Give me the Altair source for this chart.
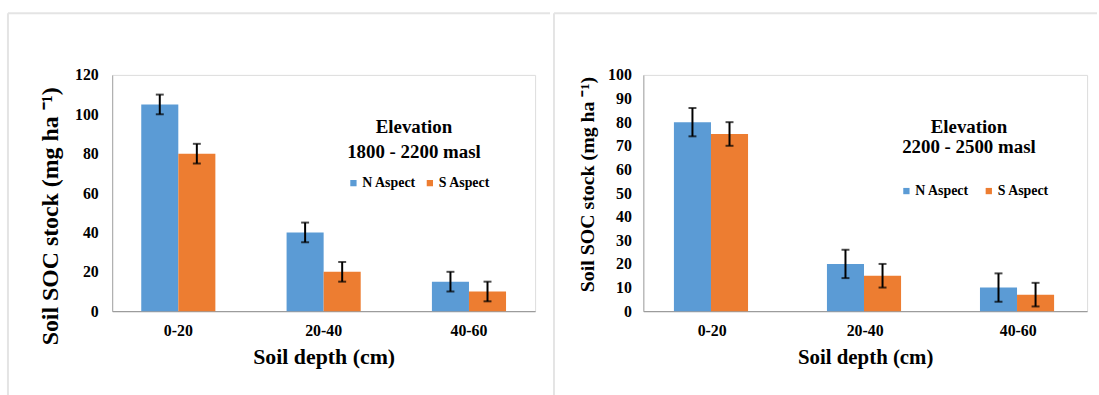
import altair as alt
import pandas as pd

depths = ["0-20", "20-40", "40-60"]
aspects = ["N Aspect", "S Aspect"]

left_n = [105, 40, 15]
left_s = [80, 20, 10]
left_n_err = [5, 5, 5]
left_s_err = [5, 5, 5]

right_n = [80, 20, 10]
right_s = [75, 15, 7]
right_n_err = [6, 6, 6]
right_s_err = [5, 5, 5]

left_ticks = [0, 20, 40, 60, 80, 100, 120]
right_ticks = [0, 10, 20, 30, 40, 50, 60, 70, 80, 90, 100]

FONT = "'Liberation Serif', 'Times New Roman', Times, serif"
COLORS = ["#5B9BD5", "#ED7D31"]


def make_df(n, s, ne, se):
    rows = []
    for d, v, e in zip(depths, n, ne):
        rows.append({"depth": d, "aspect": aspects[0], "value": v, "lo": v - e, "hi": v + e})
    for d, v, e in zip(depths, s, se):
        rows.append({"depth": d, "aspect": aspects[1], "value": v, "lo": v - e, "hi": v + e})
    return pd.DataFrame(rows)


def panel(df, ticks, width, pad_inner, ytitle_size, label_size, xtitle_size,
          elev_text, elev_x, elev_y1, elev_y2, leg_x, leg_y, col_pad,
          frame_left, frame_right, ytitle_pad, ytitle_y, ylabel_pad):
    base = alt.Chart(df)
    xaxis = alt.Axis(title="Soil depth (cm)", labelAngle=0, ticks=False,
                     labelFont=FONT, labelFontWeight="bold", labelFontSize=16,
                     labelColor="#000", labelPadding=11,
                     titleFont=FONT, titleFontWeight="bold", titleFontSize=xtitle_size,
                     titleColor="#000", titlePadding=9,
                     domainColor="#8c8c8c", domainWidth=1)
    yaxis = alt.Axis(title="Soil SOC stock (mg ha \u207b\u00b9)", values=ticks,
                     grid=False, ticks=False, labelOverlap=False,
                     labelFont=FONT, labelFontWeight="bold", labelFontSize=label_size,
                     labelColor="#000", labelPadding=ylabel_pad,
                     titleFont=FONT, titleFontWeight="bold", titleFontSize=ytitle_size,
                     titleColor="#000", titlePadding=ytitle_pad, titleY=ytitle_y,
                     domainColor="#a6a6a6", domainWidth=1)
    xscale = alt.Scale(paddingInner=pad_inner)
    yscale = alt.Scale(domain=[ticks[0], ticks[-1]], nice=False)
    xenc = alt.X("depth:N", sort=depths, scale=xscale, axis=xaxis)
    xoff = alt.XOffset("aspect:N", sort=aspects)
    bars = base.mark_bar().encode(
        x=xenc,
        y=alt.Y("value:Q", scale=yscale, axis=yaxis),
        xOffset=xoff,
        color=alt.Color("aspect:N", sort=aspects,
                        scale=alt.Scale(domain=aspects, range=COLORS),
                        legend=alt.Legend(title=None, orient="none", direction="horizontal",
                                          legendX=leg_x, legendY=leg_y,
                                          symbolType="square", symbolSize=40,
                                          symbolStrokeWidth=0, symbolOpacity=1,
                                          labelFont=FONT, labelFontWeight="bold",
                                          labelFontSize=14, labelColor="#000",
                                          labelOffset=2, columnPadding=col_pad)),
    )
    err = base.mark_rule(color="#000", strokeWidth=2).encode(
        x=xenc, xOffset=xoff,
        y=alt.Y("lo:Q", scale=yscale, axis=yaxis), y2="hi:Q",
    )
    cap_lo = base.mark_tick(color="#000", thickness=2, size=8).encode(
        x=xenc, xOffset=xoff,
        y=alt.Y("lo:Q", scale=yscale, axis=yaxis),
    )
    cap_hi = base.mark_tick(color="#000", thickness=2, size=8).encode(
        x=xenc, xOffset=xoff,
        y=alt.Y("hi:Q", scale=yscale, axis=yaxis),
    )
    t1 = alt.Chart(pd.DataFrame({"t": [elev_text[0]]})).mark_text(
        font=FONT, fontWeight="bold", fontSize=19, color="#000", align="center", baseline="middle"
    ).encode(text="t:N", x=alt.value(elev_x), y=alt.value(elev_y1))
    t2 = alt.Chart(pd.DataFrame({"t": [elev_text[1]]})).mark_text(
        font=FONT, fontWeight="bold", fontSize=19, color="#000", align="center", baseline="middle"
    ).encode(text="t:N", x=alt.value(elev_x), y=alt.value(elev_y2))
    frame_top = alt.Chart(pd.DataFrame({"a": [0]})).mark_rule(color="#e4e4e4", strokeWidth=2, clip=False).encode(
        x=alt.value(frame_left), x2=alt.value(frame_right), y=alt.value(-62))
    frame_side = alt.Chart(pd.DataFrame({"a": [0]})).mark_rule(color="#e4e4e4", strokeWidth=2, clip=False).encode(
        x=alt.value(frame_left), y=alt.value(-62), y2=alt.value(323))
    return alt.layer(bars, err, cap_lo, cap_hi, t1, t2, frame_top, frame_side).properties(
        width=width, height=238)


left_df = make_df(left_n, left_s, left_n_err, left_s_err)
right_df = make_df(right_n, right_s, right_n_err, right_s_err)

left = panel(left_df, left_ticks, 426, 0.49, 24, 16, 22,
             ["Elevation", "1800 - 2200 masl"], 304, 53, 78, 236, 102, 6,
             -105, 441, 12, 142, 14)
right = panel(right_df, right_ticks, 447, 0.5, 20, 16, 21,
              ["Elevation", "2200 - 2500 masl"], 328, 53, 73, 258, 110, 12,
              -90, 457, 10, 110, 12)

chart = alt.hconcat(left, right, spacing=0).resolve_scale(color="independent").properties(
    padding={"left": 6, "top": 10, "right": 0, "bottom": 0}
).configure_view(strokeWidth=0).configure_axisY(labelOverlap=False).configure(background="white")

chart.save("out.html", embed_options={"renderer": "svg", "actions": False})
